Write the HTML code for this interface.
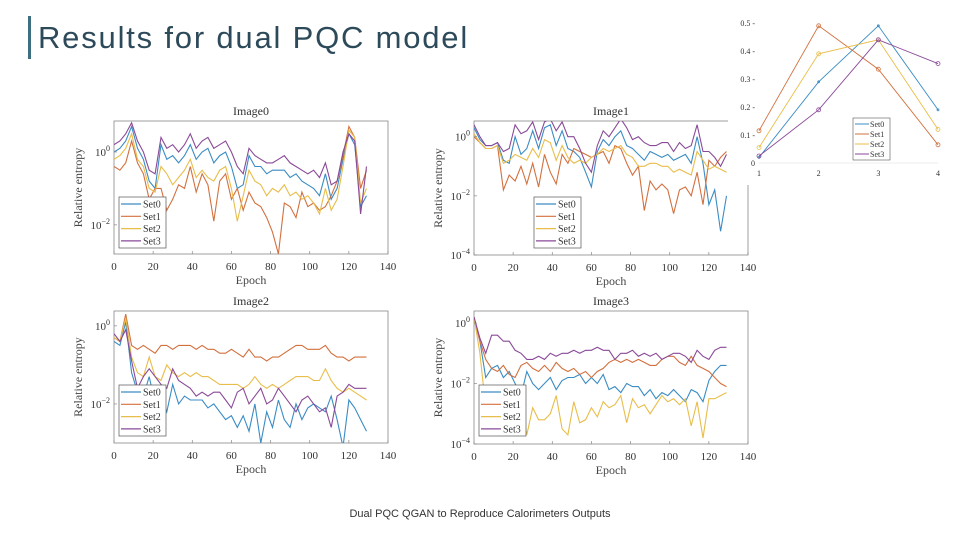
<!DOCTYPE html>
<html><head><meta charset="utf-8"><style>
body{margin:0;width:960px;height:540px;background:#fff;overflow:hidden;position:relative;font-family:"Liberation Sans",sans-serif}
#title{position:absolute;left:38px;top:18px;font-size:31px;color:#2d4a5a;line-height:40px;letter-spacing:1.8px}
#bar{position:absolute;left:28px;top:16px;width:3px;height:43px;background:#3d6f80}
#foot{position:absolute;left:0;width:960px;top:508px;text-align:center;font-size:11px;color:#333}
svg{position:absolute;left:0;top:0}
</style></head><body>
<div id="bar"></div>
<div id="title">Results for dual PQC model</div>
<div id="foot">Dual PQC QGAN to Reproduce Calorimeters Outputs</div>
<svg id="svg" width="960" height="540"></svg>
<script>
const colors=['#3a8cc4','#d2703e','#e8bd4a','#8a4a98'];
const setNames=['Set0','Set1','Set2','Set3'];
const epochStep=3;
const xTicks=[0,20,40,60,80,100,120,140];
const titles=['Image0','Image1','Image2','Image3'];
const img0s0=[0.0,0.1,0.3,0.7,0.1,-0.2,-0.8,-1.0,0.2,-0.2,-0.1,-0.3,-0.1,0.2,-0.2,0.0,0.1,-0.3,-0.1,0.0,-0.4,-1.0,-0.9,-0.1,-0.4,-0.4,-0.6,-0.5,-0.5,-0.5,-0.7,-0.6,-0.8,-0.9,-1.0,-1.2,-0.6,-1.3,-1.0,-0.2,0.5,0.2,-1.5,-1.2];
const img0s1=[-0.4,-0.5,-0.3,0.3,-0.3,-0.6,-1.3,-1.0,-1.0,-1.6,-1.3,-0.9,-1.0,-0.4,-1.1,-0.6,-0.9,-1.9,-0.8,-0.6,-1.3,-1.0,-1.6,-1.1,-1.4,-1.5,-1.8,-2.2,-2.8,-1.4,-1.5,-1.8,-1.1,-1.5,-1.4,-1.6,-1.5,-1.2,-0.8,-0.1,0.7,0.4,-1.0,-0.5];
const img0s2=[-0.2,-0.1,0.1,0.5,-0.2,-0.4,-1.0,-1.1,-0.4,-0.6,-0.9,-0.7,-0.5,-0.2,-0.7,-0.5,-0.7,-0.8,-0.5,-0.4,-1.0,-1.9,-1.2,-0.5,-0.8,-0.9,-1.2,-1.0,-1.1,-0.9,-1.2,-1.1,-1.3,-1.2,-1.4,-1.7,-1.0,-1.6,-1.3,-0.4,0.6,0.4,-1.4,-1.0];
const img0s3=[0.2,0.3,0.5,0.8,0.3,0.0,-0.5,-0.6,0.4,0.1,0.2,0.0,0.2,0.5,0.1,0.3,0.4,0.1,0.2,0.3,0.0,-0.4,-0.6,0.1,-0.1,-0.2,-0.3,-0.3,-0.2,-0.1,-0.3,-0.4,-0.5,-0.6,-0.5,-0.7,-0.3,-0.9,-0.8,0.0,0.5,0.3,-1.7,-0.4];
const img1s0=[0.3,-0.1,-0.3,-0.3,-0.2,-0.8,-0.9,0.0,-0.6,-0.4,0.2,-0.4,0.3,0.4,-0.3,0.2,-0.4,-0.5,-0.7,-1.2,-1.7,-0.5,-0.1,-0.3,0.0,0.2,-0.3,-0.4,-0.6,-0.8,-0.5,-0.6,-0.7,-0.6,-0.8,-0.7,-0.6,-0.9,0.0,-0.9,-2.3,-1.8,-3.2,-2.0];
const img1s1=[0.0,-0.2,-0.4,-0.4,-0.3,-1.8,-1.3,-1.5,-1.0,-1.6,-0.9,-1.7,-0.6,-1.2,-1.6,-0.6,-0.9,-0.4,-0.5,-0.6,-0.7,-0.6,-0.5,-0.9,-0.3,-0.4,-0.9,-1.3,-1.0,-2.5,-1.5,-1.8,-1.6,-1.8,-2.6,-1.8,-1.7,-2.0,-1.2,-2.3,-0.8,-1.0,-0.7,-0.5];
const img1s2=[0.1,-0.2,-0.4,-0.4,-0.3,-0.9,-0.8,-0.6,-0.7,-0.8,-0.4,-0.7,-0.1,-0.2,-0.8,-0.3,-0.7,-0.9,-0.8,-0.9,-0.7,-0.6,-0.4,-0.5,-0.4,-0.3,-0.6,-0.7,-1.0,-1.0,-0.9,-0.9,-1.0,-1.0,-1.2,-1.1,-1.2,-1.3,-0.5,-0.8,-1.1,-1.0,-1.1,-1.2];
const img1s3=[0.4,0.0,-0.3,-0.3,-0.2,-0.5,-0.4,0.4,0.1,0.2,0.5,-0.1,0.5,0.6,0.2,0.5,0.0,0.0,-0.4,-0.9,-1.2,-0.3,0.2,0.0,0.3,0.6,0.3,-0.1,0.0,-0.2,-0.3,-0.3,-0.2,-0.2,-0.5,-0.2,-0.4,-0.3,0.4,-0.5,-0.5,-0.7,-1.0,-0.6];
const img2s0=[-0.4,-0.5,0.1,-1.2,-1.7,-1.8,-1.3,-2.0,-1.8,-2.2,-1.5,-2.0,-1.8,-1.9,-1.9,-1.9,-2.1,-2.0,-2.2,-2.4,-2.3,-2.6,-2.3,-2.7,-2.0,-3.0,-2.2,-2.6,-1.9,-2.4,-2.6,-2.0,-2.4,-2.1,-2.0,-2.1,-2.2,-1.8,-2.4,-3.1,-1.9,-2.1,-2.4,-2.7];
const img2s1=[-0.3,-0.4,0.3,-0.5,-0.6,-0.5,-0.6,-0.7,-0.5,-0.5,-0.6,-0.5,-0.5,-0.5,-0.6,-0.5,-0.6,-0.6,-0.7,-0.7,-0.6,-0.7,-0.8,-0.6,-0.8,-0.8,-0.9,-0.8,-0.8,-0.7,-0.6,-0.5,-0.5,-0.6,-0.6,-0.6,-0.5,-0.7,-0.8,-0.8,-0.9,-0.8,-0.8,-0.8];
const img2s2=[-0.3,-0.4,0.2,-0.8,-1.2,-1.3,-0.8,-1.3,-1.4,-1.0,-1.2,-1.3,-1.2,-1.3,-1.2,-1.3,-1.3,-1.4,-1.5,-1.5,-1.5,-1.5,-1.6,-1.5,-1.3,-1.5,-1.6,-1.5,-1.6,-1.5,-1.4,-1.3,-1.3,-1.3,-1.4,-1.4,-1.1,-1.4,-1.6,-1.7,-1.6,-1.7,-1.8,-1.9];
const img2s3=[-0.2,-0.4,-0.1,-0.9,-1.6,-1.3,-1.1,-1.3,-1.5,-1.6,-1.1,-1.4,-1.5,-1.6,-1.8,-1.7,-1.8,-1.7,-1.7,-1.9,-2.1,-1.7,-1.6,-2.0,-1.8,-1.6,-2.0,-1.9,-1.6,-1.8,-2.0,-2.2,-1.9,-1.8,-2.0,-2.2,-2.1,-2.6,-1.8,-1.7,-1.5,-1.6,-1.6,-1.6];
const img3s0=[0.2,-0.6,-1.8,-1.5,-1.4,-1.8,-1.6,-2.0,-2.4,-1.6,-2.0,-2.2,-2.0,-1.8,-2.2,-1.9,-1.8,-1.8,-1.7,-2.0,-1.8,-2.0,-1.7,-2.2,-2.1,-2.3,-2.0,-2.1,-2.1,-2.4,-2.2,-2.5,-2.3,-2.4,-2.2,-2.4,-2.6,-2.2,-2.3,-2.6,-1.9,-1.6,-1.4,-1.4];
const img3s1=[0.2,-0.6,-1.2,-1.5,-1.6,-1.4,-1.7,-1.8,-1.4,-1.3,-1.5,-1.6,-1.4,-1.6,-1.3,-1.5,-1.6,-1.5,-1.7,-1.6,-1.8,-1.6,-1.5,-1.3,-1.2,-1.3,-1.2,-1.3,-1.2,-1.3,-1.4,-1.4,-1.2,-1.1,-1.1,-1.3,-1.4,-1.1,-1.4,-1.5,-1.6,-1.8,-2.0,-2.1];
const img3s2=[0.2,-1.0,-2.8,-2.3,-2.5,-2.9,-2.7,-3.4,-2.6,-3.7,-2.8,-3.2,-3.2,-3.0,-2.4,-3.5,-3.7,-2.6,-3.3,-3.2,-2.8,-3.1,-2.6,-2.8,-2.7,-2.4,-3.3,-2.5,-2.8,-2.7,-3.0,-2.7,-2.4,-2.6,-2.5,-2.7,-2.5,-3.4,-2.6,-3.8,-2.5,-2.5,-2.4,-2.3];
const img3s3=[0.2,-0.5,-1.0,-0.4,-0.4,-0.6,-0.6,-0.9,-1.0,-1.2,-1.2,-1.1,-1.2,-1.0,-1.1,-1.0,-1.0,-0.9,-1.0,-0.9,-0.9,-0.8,-0.9,-0.9,-1.2,-1.0,-1.0,-0.9,-1.1,-1.0,-1.1,-1.0,-1.2,-1.1,-1.0,-1.0,-1.1,-1.3,-0.9,-1.1,-1.2,-0.9,-0.8,-0.8];
const yTicks0=[0,-2];const yTicks1=[0,-2,-4];const yTicks2=[0,-2];const yTicks3=[0,-2,-4];
const smallX=[1,2,3,4];
const smallY=[0,0.1,0.2,0.3,0.4,0.5];
const sm0=[0.02,0.29,0.49,0.19];
const sm1=[0.115,0.49,0.335,0.065];
const sm2=[0.055,0.39,0.44,0.12];
const sm3=[0.025,0.19,0.44,0.355];

const NS='http://www.w3.org/2000/svg';
const svg=document.getElementById('svg');
function mk(tag,at,parent,txt){const e=document.createElementNS(NS,tag);for(const k in at)e.setAttribute(k,at[k]);if(txt!==undefined)e.textContent=txt;(parent||svg).appendChild(e);return e;}
const panels=[
 {x0:114,x1:388,y0:121,y1:254,top:0.85,bot:-2.8,ticks:yTicks0,data:[img0s0,img0s1,img0s2,img0s3],lg:[119,197]},
 {x0:474,x1:748,y0:121,y1:255,top:0.53,bot:-4,ticks:yTicks1,data:[img1s0,img1s1,img1s2,img1s3],lg:[534,197]},
 {x0:114,x1:388,y0:311,y1:443,top:0.38,bot:-3,ticks:yTicks2,data:[img2s0,img2s1,img2s2,img2s3],lg:[119,385]},
 {x0:474,x1:748,y0:311,y1:444,top:0.4,bot:-4,ticks:yTicks3,data:[img3s0,img3s1,img3s2,img3s3],lg:[479,385]}];
panels.forEach((p,i)=>{
 const g=mk('g',{});
 
 
 const sx=v=>p.x0+(v/140)*(p.x1-p.x0);
 const sy=v=>p.y0+(p.top-v)/(p.top-p.bot)*(p.y1-p.y0);
 const cid='clip'+i;
 const cp=mk('clipPath',{id:cid},g);mk('rect',{x:p.x0,y:p.y0,width:p.x1-p.x0,height:p.y1-p.y0},cp);
 mk('rect',{x:p.x0,y:p.y0,width:p.x1-p.x0,height:p.y1-p.y0,fill:'#fff',stroke:'#888','stroke-width':0.8},g);
 const ser=mk('g',{'clip-path':'url(#'+cid+')'},g);
 p.data.forEach((arr,s)=>{
  const pts=arr.map((v,k)=>sx(k*epochStep).toFixed(1)+','+sy(v).toFixed(1)).join(' ');
  const l=mk('polyline',{points:pts,fill:'none',stroke:colors[s],'stroke-width':1.1},ser);
  
  
 });
 xTicks.forEach(t=>{mk('line',{x1:sx(t),x2:sx(t),y1:p.y1,y2:p.y1-3,stroke:'#888','stroke-width':0.7},g);
  mk('text',{x:sx(t),y:p.y1+16,'text-anchor':'middle','font-size':11,fill:'#333','font-family':'Liberation Serif'},g,t);});
 p.ticks.forEach(t=>{const y=sy(t);mk('line',{x1:p.x0,x2:p.x0+3,y1:y,y2:y,stroke:'#888','stroke-width':0.7},g);
  const tx=mk('text',{x:p.x0-4,y:y+4,'text-anchor':'end','font-size':11,fill:'#333','font-family':'Liberation Serif'},g,'10');
  mk('tspan',{dy:-5,'font-size':8},tx,t===0?'0':'−'+(-t));});
 mk('text',{x:(p.x0+p.x1)/2,y:p.y0-6,'text-anchor':'middle','font-size':12,fill:'#333','font-family':'Liberation Serif'},g,titles[i]);
 mk('text',{x:(p.x0+p.x1)/2,y:p.y1+30,'text-anchor':'middle','font-size':12,fill:'#444','font-family':'Liberation Serif'},g,'Epoch');
 const cy=(p.y0+p.y1)/2;
 mk('text',{x:p.x0-32,y:cy,'text-anchor':'middle','font-size':12,fill:'#444','font-family':'Liberation Serif',transform:'rotate(-90 '+(p.x0-32)+' '+cy+')'},g,'Relative entropy');
 const lg=mk('g',{},g);
 mk('rect',{x:p.lg[0],y:p.lg[1],width:47,height:51,fill:'#fff',stroke:'#555','stroke-width':0.7},lg);
 setNames.forEach((n,s)=>{const yy=p.lg[1]+7+s*12.3;
  mk('line',{x1:p.lg[0]+2,x2:p.lg[0]+22,y1:yy,y2:yy,stroke:colors[s],'stroke-width':1.2},lg);
  mk('text',{x:p.lg[0]+24,y:yy+3.5,'font-size':10,fill:'#333','font-family':'Liberation Serif'},lg,n);});
});
const sg=mk('g',{});
mk('rect',{x:728,y:0,width:232,height:185,fill:'#fff'},sg);
const qx=v=>759+(v-1)/3*(938-759);
const qy=v=>163-v*280;
mk('line',{x1:759,x2:938,y1:163,y2:163,stroke:'#ddd','stroke-width':0.6},sg);
smallY.forEach(t=>{mk('text',{x:755,y:qy(t)+3,'text-anchor':'end','font-size':8,fill:'#333','font-family':'Liberation Serif'},sg,t===0?'0':t.toFixed(1)+' -');});
smallX.forEach(t=>{mk('text',{x:qx(t),y:176,'text-anchor':'middle','font-size':8,fill:'#333','font-family':'Liberation Serif'},sg,t);});
[sm0,sm1,sm2,sm3].forEach((arr,s)=>{
 const l=mk('polyline',{points:arr.map((v,k)=>qx(smallX[k])+','+qy(v)).join(' '),fill:'none',stroke:colors[s],'stroke-width':0.9},sg);
 
 
 arr.forEach((v,k)=>{const m=mk('circle',{cx:qx(smallX[k]),cy:qy(v),r:s===0?1:2,fill:'none',stroke:colors[s],'stroke-width':0.8},sg);
  
  });
});
const sl=mk('g',{},sg);
mk('rect',{x:853,y:118,width:37,height:42,fill:'#fff',stroke:'#555','stroke-width':0.6},sl);
setNames.forEach((n,s)=>{const yy=124+s*10;
 mk('line',{x1:855,x2:869,y1:yy,y2:yy,stroke:colors[s],'stroke-width':1},sl);
 mk('text',{x:870,y:yy+3,'font-size':8,fill:'#333','font-family':'Liberation Serif'},sl,n);});
</script>
</body></html>
